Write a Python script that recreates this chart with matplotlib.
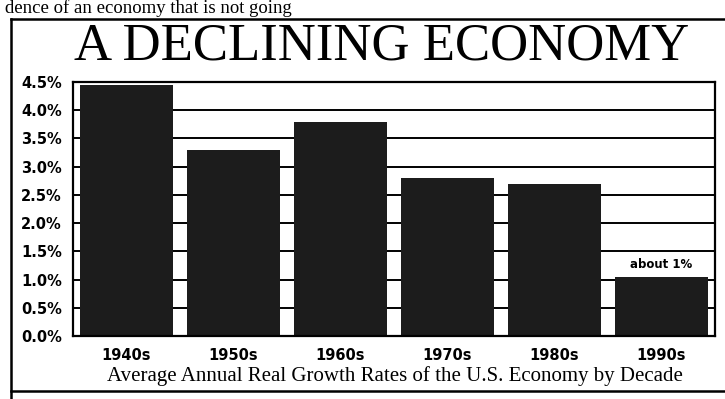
import numpy as np
import matplotlib
matplotlib.use("Agg")
import matplotlib.pyplot as plt
from matplotlib.lines import Line2D

# Average annual real growth by decade (percent)
decades = ["1940s", "1950s", "1960s", "1970s", "1980s", "1990s"]
growth = [4.45, 3.3, 3.8, 2.8, 2.7, 1.05]
y_ticks = [0.0, 0.5, 1.0, 1.5, 2.0, 2.5, 3.0, 3.5, 4.0, 4.5]
note_text = "about 1%"
title = "A DECLINING ECONOMY"
caption = "Average Annual Real Growth Rates of the U.S. Economy by Decade"
page_text = "dence of an economy that is not going"

W, H = 725, 399
fig = plt.figure(figsize=(W / 100, H / 100), dpi=100)
fig.patch.set_facecolor("white")

def px(x, y):
    """pixel position (top-left origin) -> figure fraction"""
    return x / W, 1 - y / H

serif = "Liberation Serif"

# running text of the page above the box
fig.text(*px(5, 13), page_text, family=serif, fontsize=13.5, va="baseline", ha="left")

# outer box lines
for xs, ys in [((11, W), (19, 19)), ((11, 11), (19, H)), ((11, W), (391, 391))]:
    fx = [x / W for x in xs]
    fy = [1 - y / H for y in ys]
    fig.add_artist(Line2D(fx, fy, color="black", lw=1.8, transform=fig.transFigure))

# headline
fig.text(*px(382, 59), title, family=serif, fontsize=38, ha="center", va="baseline")

# bar chart area
left, right, top, bottom = 73, 715, 82, 336
ax = fig.add_axes([left / W, 1 - bottom / H, (right - left) / W, (bottom - top) / H])
x = np.arange(len(decades))
ax.set_axisbelow(True)
for v in y_ticks[1:-1]:
    ax.axhline(v, color="black", lw=1.4, zorder=0)
ax.bar(x, growth, width=0.87, color="#1c1c1c", zorder=2)
ax.set_xlim(-0.5, len(decades) - 0.5)
ax.set_ylim(0, 4.5)

ax.set_yticks(y_ticks)
ax.set_yticklabels([f"{v:.1f}%" for v in y_ticks], fontsize=10.5, fontweight="bold")
ax.set_xticks(x)
ax.set_xticklabels(decades, fontsize=10.5, fontweight="heavy")
ax.tick_params(axis="y", length=0, pad=8)
ax.tick_params(axis="x", length=0, pad=9)
for s in ax.spines.values():
    s.set_linewidth(1.6)
    s.set_color("black")

ax.text(x[-1], growth[-1] + 0.1, note_text, ha="center", va="bottom",
        fontsize=8.5, fontweight="bold")

fig.text(*px(395, 381), caption, family=serif, fontsize=15, ha="center", va="baseline")

fig.savefig("out.png", dpi=100, facecolor="white")
